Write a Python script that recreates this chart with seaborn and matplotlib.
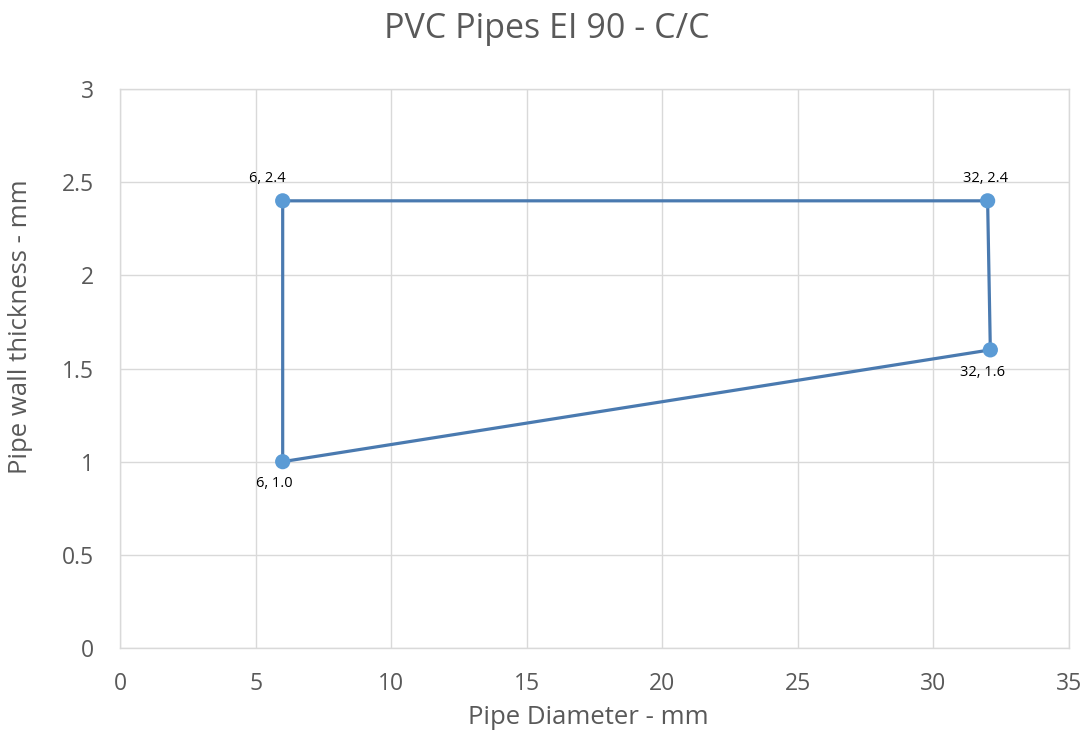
import matplotlib
matplotlib.use("Agg")
import matplotlib.pyplot as plt
import seaborn as sns
import pandas as pd

# data (closed outline of the EI 90 area)
diameter = [6, 6, 32, 32.1, 6]
thickness = [1.0, 2.4, 2.4, 1.6, 1.0]
point_labels = ["6, 1.0", "6, 2.4", "32, 2.4", "32, 1.6"]
# label offsets in points (dx, dy)
label_offsets = [(-6, -16), (-11, 16), (-1.5, 16), (-6, -16.5)]

x_ticks = [0, 5, 10, 15, 20, 25, 30, 35]
y_ticks = [0, 0.5, 1, 1.5, 2, 2.5, 3]
y_tick_labels = ["0", "0.5", "1", "1.5", "2", "2.5", "3"]

df = pd.DataFrame({"d": diameter, "t": thickness})

sns.set_theme(style="white")
plt.rcParams["font.family"] = ["Open Sans", "DejaVu Sans"]

fig = plt.figure(figsize=(10.89, 7.34), dpi=100)
ax = fig.add_axes([0.1102, 0.1172, 0.8714, 0.7615])

sns.lineplot(data=df, x="d", y="t", sort=False, estimator=None, ax=ax,
             color="#4a7ab0", linewidth=2.3, zorder=2)
sns.scatterplot(data=df.iloc[:4], x="d", y="t", ax=ax, color="#5b9bd5",
                s=120, edgecolor="none", zorder=3)

for xv, yv, txt, off in zip(diameter[:4], thickness[:4], point_labels, label_offsets):
    ax.annotate(txt, (xv, yv), xytext=off, textcoords="offset points",
                ha="center", va="center", fontsize=10.5, color="#000000")

ax.set_xlim(0, 35)
ax.set_ylim(0, 3)
ax.set_xticks(x_ticks)
ax.set_yticks(y_ticks)
ax.set_yticklabels(y_tick_labels)
ax.grid(True, color="#d9d9d9", linewidth=1)
ax.set_axisbelow(True)
for s in ax.spines.values():
    s.set_color("#d9d9d9")
    s.set_linewidth(1)
ax.tick_params(axis="y", length=0, labelsize=16.5, labelcolor="#595959", pad=19)
ax.tick_params(axis="x", length=0, labelsize=16.5, labelcolor="#595959", pad=17)

ax.set_xlabel("Pipe Diameter - mm", fontsize=18.5, color="#595959")
ax.set_ylabel("Pipe wall thickness - mm", fontsize=18.5, color="#595959")
ax.xaxis.set_label_coords(0.493, -0.102)
ax.yaxis.set_label_coords(-0.092, 0.574)
fig.text(0.502, 0.961, "PVC Pipes EI 90 - C/C", fontsize=24.5, color="#595959",
         ha="center", va="center")

fig.savefig("out.png", dpi=100)
